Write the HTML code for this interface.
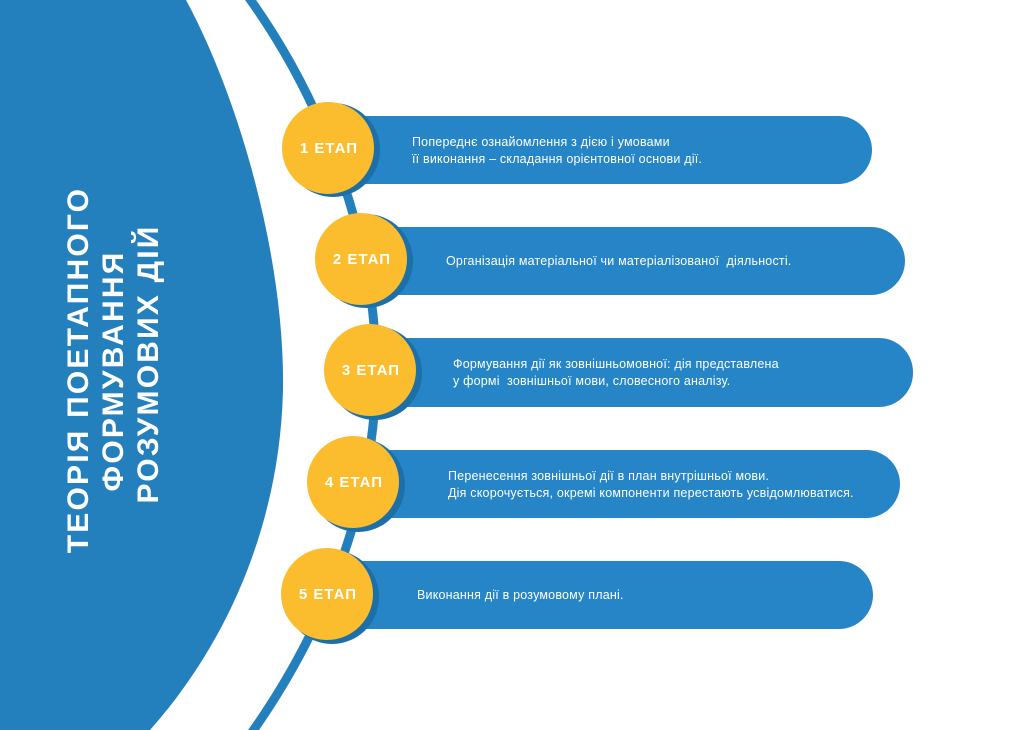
<!DOCTYPE html>
<html><head><meta charset="utf-8"><style>
html,body{margin:0;padding:0;background:#fff;}
body{width:1024px;height:730px;overflow:hidden;position:relative;font-family:"Liberation Sans","DejaVu Sans",sans-serif;}
svg{position:absolute;left:0;top:0;}
.t{position:absolute;color:#fff;font-size:12.5px;letter-spacing:0.2px;line-height:17px;white-space:nowrap;}
</style></head><body>
<svg width="1024" height="730" viewBox="0 0 1024 730">
  <path d="M0,0 L186,0 C240,100 285,260 283,390 C280,520 230,640 150,730 L0,730 Z" fill="#2380bd"/>
  <path d="M247,-5 C330,110 376,250 376,370 C376,490 332,620 250,735" fill="none" stroke="#2380bd" stroke-width="9"/>
  <g fill="#2585c7">
    <rect x="330" y="116" width="542" height="68" rx="34"/>
    <rect x="362" y="227" width="543" height="68" rx="34"/>
    <rect x="374" y="338" width="539" height="69" rx="34"/>
    <rect x="357" y="450" width="543" height="68" rx="34"/>
    <rect x="330" y="561" width="543" height="68" rx="34"/>
  </g>
  <g fill="#1d6fa8">
    <circle cx="333" cy="150" r="47"/>
    <circle cx="366" cy="261" r="47"/>
    <circle cx="375" cy="373" r="47"/>
    <circle cx="358" cy="485" r="47"/>
    <circle cx="332" cy="597" r="47"/>
  </g>
  <g fill="#fbbd2e">
    <circle cx="328" cy="148" r="46"/>
    <circle cx="361" cy="259" r="46"/>
    <circle cx="370" cy="370" r="46"/>
    <circle cx="353" cy="482" r="46"/>
    <circle cx="327" cy="594" r="46"/>
  </g>
  <g fill="#fff" font-family="Liberation Sans, sans-serif" font-weight="bold" font-size="15" text-anchor="middle" letter-spacing="1">
    <text x="329" y="153">1 ЕТАП</text>
    <text x="362" y="264">2 ЕТАП</text>
    <text x="371" y="375">3 ЕТАП</text>
    <text x="354" y="487">4 ЕТАП</text>
    <text x="328" y="599">5 ЕТАП</text>
  </g>
  <g fill="#fff" font-family="Liberation Sans, sans-serif" font-weight="bold" font-size="30" text-anchor="middle" letter-spacing="2.2">
    <text transform="translate(88,370) rotate(-90)">ТЕОРІЯ ПОЕТАПНОГО</text>
    <text transform="translate(123,371) rotate(-90)">ФОРМУВАННЯ</text>
    <text transform="translate(158,364) rotate(-90)">РОЗУМОВИХ ДІЙ</text>
  </g>
</svg>
<div class="t" style="left:412px;top:134px;">Попереднє ознайомлення з дією і умовами<br>її виконання – складання орієнтовної основи дії.</div>
<div class="t" style="left:446px;top:253px;">Організація матеріальної чи матеріалізованої&nbsp; діяльності.</div>
<div class="t" style="left:453px;top:356px;">Формування дії як зовнішньомовної: дія представлена<br>у формі&nbsp; зовнішньої мови, словесного аналізу.</div>
<div class="t" style="left:448px;top:468px;">Перенесення зовнішньої дії в план внутрішньої мови.<br>Дія скорочується, окремі компоненти перестають усвідомлюватися.</div>
<div class="t" style="left:417px;top:587px;">Виконання дії в розумовому плані.</div>
</body></html>
